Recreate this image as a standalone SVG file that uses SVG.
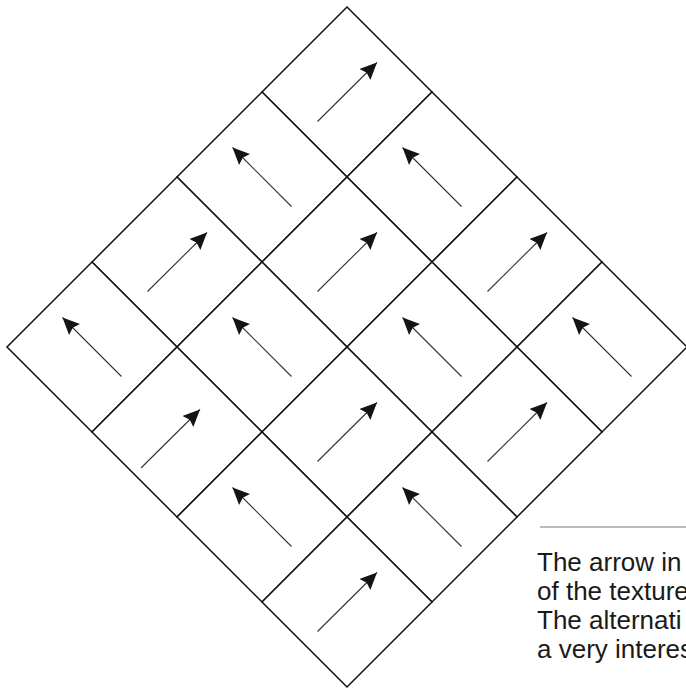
<svg xmlns="http://www.w3.org/2000/svg" width="686" height="689" viewBox="0 0 686 689">
  <style>
    .cell { fill: #ffffff; stroke: #111111; stroke-width: 1.5; stroke-linejoin: miter; }
    .arrow { stroke: #333333; stroke-width: 1.1; fill: none; marker-end: url(#head); }
    .rule { stroke: #777777; stroke-width: 1; }
    .caption { font-family: "Liberation Sans", Arial, sans-serif; font-size: 26px; fill: #1a1a1a; }
  </style>
  <defs>
    <marker id="head" viewBox="0 0 17 16" refX="17" refY="8" markerWidth="17" markerHeight="16" markerUnits="userSpaceOnUse" orient="auto">
      <path d="M0,0.3 L17,8 L0,15.7 L2.5,8 Z" fill="#141414"/>
    </marker>
  </defs>

  <rect width="686" height="689" fill="#ffffff"/>

  <g id="cells">
    <g id="cell-0-0"><polygon class="cell" points="347,7 432,92 347,177 262,92"/></g>
    <g id="cell-0-1"><polygon class="cell" points="262,92 347,177 262,262 177,177"/></g>
    <g id="cell-1-0"><polygon class="cell" points="432,92 517,177 432,262 347,177"/></g>
    <g id="cell-0-2"><polygon class="cell" points="177,177 262,262 177,347 92,262"/></g>
    <g id="cell-1-1"><polygon class="cell" points="347,177 432,262 347,347 262,262"/></g>
    <g id="cell-2-0"><polygon class="cell" points="517,177 602,262 517,347 432,262"/></g>
    <g id="cell-0-3"><polygon class="cell" points="92,262 177,347 92,432 7,347"/></g>
    <g id="cell-1-2"><polygon class="cell" points="262,262 347,347 262,432 177,347"/></g>
    <g id="cell-2-1"><polygon class="cell" points="432,262 517,347 432,432 347,347"/></g>
    <g id="cell-3-0"><polygon class="cell" points="602,262 687,347 602,432 517,347"/></g>
    <g id="cell-1-3"><polygon class="cell" points="177,347 262,432 177,517 92,432"/></g>
    <g id="cell-2-2"><polygon class="cell" points="347,347 432,432 347,517 262,432"/></g>
    <g id="cell-3-1"><polygon class="cell" points="517,347 602,432 517,517 432,432"/></g>
    <g id="cell-2-3"><polygon class="cell" points="262,432 347,517 262,602 177,517"/></g>
    <g id="cell-3-2"><polygon class="cell" points="432,432 517,517 432,602 347,517"/></g>
    <g id="cell-3-3"><polygon class="cell" points="347,517 432,602 347,687 262,602"/></g>
  </g>

  <g id="arrows">
    <line class="arrow" x1="317.5" y1="121.5" x2="377" y2="62.5"/>
    <line class="arrow" x1="291.5" y1="206.5" x2="232.5" y2="147.5"/>
    <line class="arrow" x1="461.5" y1="206.5" x2="402.5" y2="147.5"/>
    <line class="arrow" x1="147.5" y1="291.5" x2="207" y2="232.5"/>
    <line class="arrow" x1="317.5" y1="291.5" x2="377" y2="232.5"/>
    <line class="arrow" x1="487.5" y1="291.5" x2="547" y2="232.5"/>
    <line class="arrow" x1="121.5" y1="376.5" x2="62.5" y2="317.5"/>
    <line class="arrow" x1="291.5" y1="376.5" x2="232.5" y2="317.5"/>
    <line class="arrow" x1="461.5" y1="376.5" x2="402.5" y2="317.5"/>
    <line class="arrow" x1="631.5" y1="376.5" x2="572.5" y2="317.5"/>
    <line class="arrow" x1="141" y1="468" x2="200" y2="409.5"/>
    <line class="arrow" x1="317.5" y1="461.5" x2="377" y2="402.5"/>
    <line class="arrow" x1="487.5" y1="461.5" x2="547" y2="402.5"/>
    <line class="arrow" x1="291.5" y1="546.5" x2="232.5" y2="487.5"/>
    <line class="arrow" x1="461.5" y1="546.5" x2="402.5" y2="487.5"/>
    <line class="arrow" x1="317.5" y1="631.5" x2="377" y2="572.5"/>
  </g>

  <g id="caption">
    <line class="rule" x1="540" y1="527" x2="686" y2="527"/>
    <text class="caption" x="537" y="571">The arrow in</text>
    <text class="caption" x="537" y="600">of the texture</text>
    <text class="caption" x="537" y="629">The alternati</text>
    <text class="caption" x="537" y="658">a very interes</text>
  </g>
</svg>
